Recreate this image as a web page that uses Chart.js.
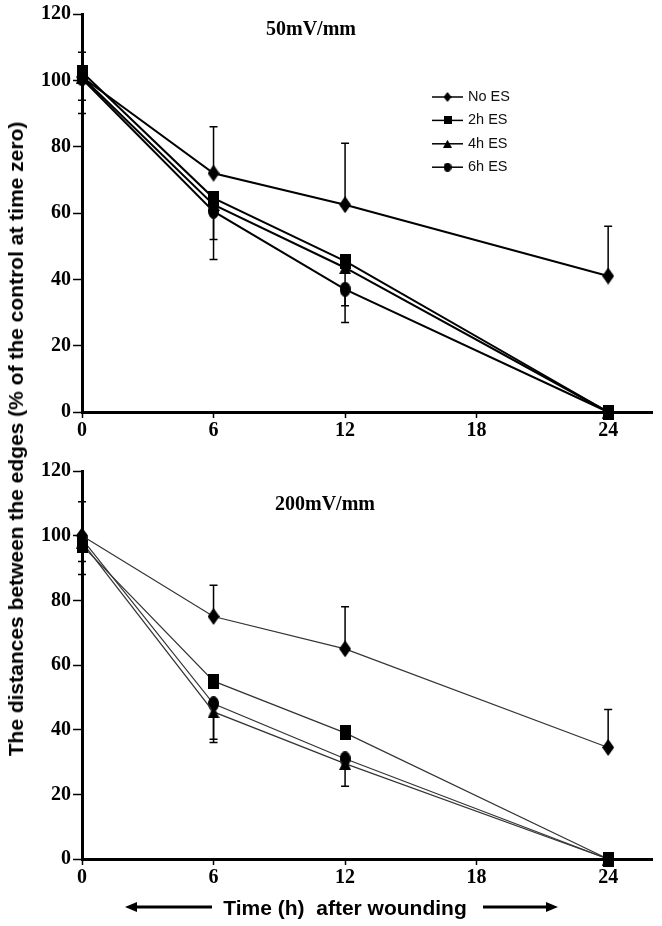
<!DOCTYPE html>
<html>
<head>
<meta charset="utf-8">
<script src="https://cdn.jsdelivr.net/npm/chart.js@4/dist/chart.umd.min.js"></script>
<style>
  html, body { margin: 0; padding: 0; background: #fff; }
  #wrap { position: relative; width: 662px; height: 926px; overflow: hidden; background: #fff; }
  canvas { position: absolute; left: 0; }
  #c1 { top: 0; }
  #c2 { top: 450px; }
  .ytitle { position: absolute; left: 16px; top: 439px; transform: translate(-50%, -50%) rotate(-90deg);
    font: bold 21px "Liberation Sans", Arial, sans-serif; white-space: nowrap; color: #000; }
  .xtitle { position: absolute; left: 345px; top: 908px; transform: translate(-50%, -50%);
    font: bold 21px "Liberation Sans", Arial, sans-serif; white-space: pre; color: #000; }
</style>
</head>
<body>
<div id="wrap">
  <canvas id="c1" width="662" height="440"></canvas>
  <canvas id="c2" width="662" height="476"></canvas>
  <div class="ytitle">The distances between the edges (% of the control at time zero)</div>
  <div class="xtitle">Time (h)  after wounding</div>
</div>
<script>
// ---- data ----
const times = [0, 6, 12, 24];
const xTicks = [0, 6, 12, 18, 24];
const yTicks = [0, 20, 40, 60, 80, 100, 120];
const seriesLabels = ['No ES', '2h ES', '4h ES', '6h ES'];

// 50 mV/mm panel
const noES50 = [101, 72, 62.5, 41];
const h2ES50 = [102.5, 64.5, 45.5, 0];
const h4ES50 = [101, 62.5, 43.5, 0];
const h6ES50 = [100.5, 60.5, 37, 0];
const noES50ErrUp = [7.5, 14, 18.5, 15];
const h2ES50ErrDown = [8.5, 12.5, 13.5, 0];
const h6ES50ErrDown = [10.5, 14.5, 10, 0];

// 200 mV/mm panel
const noES200 = [100, 75, 65, 34.5];
const h2ES200 = [97, 55, 39, 0];
const h4ES200 = [98, 45.5, 29.5, 0];
const h6ES200 = [99, 48, 31, 0];
const noES200ErrUp = [10.5, 9.7, 13, 11.7];
const h4ES200ErrDown = [10, 9.5, 7, 0];
const h6ES200ErrDown = [7, 11, 0, 0];

// ---- helpers ----
function marker(kind, w, h, color) {
  const c = document.createElement('canvas');
  c.width = w; c.height = h;
  const g = c.getContext('2d');
  g.fillStyle = color;
  g.beginPath();
  if (kind === 'diamond') { g.moveTo(w/2, 0); g.lineTo(w, h/2); g.lineTo(w/2, h); g.lineTo(0, h/2); g.closePath(); }
  else if (kind === 'rect') { g.rect(0, 0, w, h); }
  else if (kind === 'triangle') { g.moveTo(w/2, 0); g.lineTo(w, h); g.lineTo(0, h); g.closePath(); }
  else { g.ellipse(w/2, h/2, w/2, h/2, 0, 0, Math.PI*2); }
  g.fill();
  return c;
}
const kinds = ['diamond', 'rect', 'triangle', 'ellipse'];
const bigSizes = [[12, 17], [11, 15], [12, 13], [11, 15]];
const smallSizes = [[8, 10], [8, 8], [9, 8], [8, 9]];

function pts(vals) { return times.map((t, i) => ({ x: t, y: vals[i] })); }

function makeDatasets(seriesVals, errs, color, lw) {
  return seriesVals.map((v, i) => ({
    label: seriesLabels[i],
    data: pts(v),
    borderColor: color,
    backgroundColor: color,
    borderWidth: lw,
    tension: 0,
    clip: false,
    pointStyle: marker(kinds[i], bigSizes[i][0], bigSizes[i][1], '#000'),
    pointRadius: 6,
    errUp: errs[i].up,
    errDown: errs[i].down
  }));
}

const errorBars = {
  id: 'errorBars',
  beforeDatasetsDraw(chart) {
    const g = chart.ctx, xs = chart.scales.x, ys = chart.scales.y;
    g.save();
    g.strokeStyle = '#000';
    g.lineWidth = 1.5;
    chart.data.datasets.forEach(ds => {
      ds.data.forEach((p, j) => {
        const x = xs.getPixelForValue(p.x);
        const y0 = ys.getPixelForValue(p.y);
        [[ds.errUp, 1], [ds.errDown, -1]].forEach(([arr, s]) => {
          if (!arr || !arr[j]) return;
          const y1 = ys.getPixelForValue(p.y + s * arr[j]);
          g.beginPath();
          g.moveTo(x, y0); g.lineTo(x, y1);
          g.moveTo(x - 4, y1); g.lineTo(x + 4, y1);
          g.stroke();
        });
      });
    });
    g.restore();
  }
};

const panelTitle = {
  id: 'panelTitle',
  afterDraw(chart, args, opts) {
    const g = chart.ctx;
    g.save();
    g.font = 'bold 20px "Liberation Serif", "Times New Roman", serif';
    g.fillStyle = '#000';
    g.textAlign = 'center';
    g.textBaseline = 'middle';
    g.fillText(opts.text, opts.x, opts.y);
    g.restore();
  }
};

const customLegend = {
  id: 'customLegend',
  afterDraw(chart, args, opts) {
    if (!opts.show) return;
    const g = chart.ctx;
    g.save();
    chart.data.datasets.forEach((ds, i) => {
      const y = opts.y + i * opts.gap;
      g.strokeStyle = '#000';
      g.lineWidth = 1.5;
      g.beginPath(); g.moveTo(opts.x, y); g.lineTo(opts.x + 31, y); g.stroke();
      const m = marker(kinds[i], smallSizes[i][0], smallSizes[i][1], '#000');
      g.drawImage(m, opts.x + 15.5 - m.width/2, y - m.height/2);
      g.font = '14.5px "Liberation Sans", Arial, sans-serif';
      g.fillStyle = '#111';
      g.textAlign = 'left';
      g.textBaseline = 'middle';
      g.fillText(ds.label, opts.x + 36, y);
    });
    g.restore();
  }
};

const arrows = {
  id: 'arrows',
  afterDraw(chart, args, opts) {
    if (!opts.show) return;
    const g = chart.ctx;
    g.save();
    g.strokeStyle = '#000'; g.fillStyle = '#000'; g.lineWidth = 3;
    const y = opts.y;
    // left arrow
    g.beginPath(); g.moveTo(opts.l1 + 8, y); g.lineTo(opts.l2, y); g.stroke();
    g.beginPath(); g.moveTo(opts.l1, y); g.lineTo(opts.l1 + 12, y - 5); g.lineTo(opts.l1 + 12, y + 5); g.closePath(); g.fill();
    // right arrow
    g.beginPath(); g.moveTo(opts.r1, y); g.lineTo(opts.r2 - 8, y); g.stroke();
    g.beginPath(); g.moveTo(opts.r2, y); g.lineTo(opts.r2 - 12, y - 5); g.lineTo(opts.r2 - 12, y + 5); g.closePath(); g.fill();
    g.restore();
  }
};

function makeOptions(padTop, xHeight, title, legendOpts, arrowOpts) {
  const tickFont = { family: '"Liberation Serif", "Times New Roman", serif', size: 20, weight: 'bold' };
  return {
    responsive: false,
    animation: false,
    events: [],
    layout: { padding: { top: padTop, right: 10, left: 0, bottom: 0 } },
    scales: {
      x: {
        type: 'linear', min: 0, max: 26,
        afterBuildTicks: s => { s.ticks = xTicks.map(v => ({ value: v })); },
        afterFit: s => { s.height = xHeight; },
        ticks: { font: tickFont, color: '#000', padding: 1, maxRotation: 0 },
        grid: { display: true, drawOnChartArea: false, drawTicks: true, tickLength: 6, tickColor: '#000', tickWidth: 1.5 },
        border: { display: true, color: '#000', width: 3 }
      },
      y: {
        type: 'linear', min: 0, max: 120,
        afterBuildTicks: s => { s.ticks = yTicks.map(v => ({ value: v })); },
        afterFit: s => { s.width = 82; },
        ticks: { font: tickFont, color: '#000', padding: 2 },
        grid: { display: true, drawOnChartArea: false, drawTicks: true, tickLength: 9, tickColor: '#000', tickWidth: 1.5 },
        border: { display: true, color: '#000', width: 3 }
      }
    },
    plugins: {
      legend: { display: false },
      tooltip: { enabled: false },
      panelTitle: title,
      customLegend: legendOpts,
      arrows: arrowOpts
    }
  };
}

new Chart(document.getElementById('c1'), {
  type: 'line',
  data: {
    datasets: makeDatasets([noES50, h2ES50, h4ES50, h6ES50], [
      { up: noES50ErrUp, down: null },
      { up: null, down: h2ES50ErrDown },
      { up: null, down: null },
      { up: null, down: h6ES50ErrDown }
    ], '#000', 2)
  },
  options: makeOptions(11, 28, { text: '50mV/mm', x: 311, y: 30 },
    { show: true, x: 432, y: 97, gap: 23.4 }, { show: false }),
  plugins: [errorBars, panelTitle, customLegend, arrows]
});

new Chart(document.getElementById('c2'), {
  type: 'line',
  data: {
    datasets: makeDatasets([noES200, h2ES200, h4ES200, h6ES200], [
      { up: noES200ErrUp, down: null },
      { up: null, down: null },
      { up: null, down: h4ES200ErrDown },
      { up: null, down: h6ES200ErrDown }
    ], '#333', 1.2)
  },
  options: makeOptions(21, 67, { text: '200mV/mm', x: 325, y: 55 },
    { show: false }, { show: true, y: 457, l1: 125, l2: 212, r1: 483, r2: 558 }),
  plugins: [errorBars, panelTitle, customLegend, arrows]
});
</script>
</body>
</html>
